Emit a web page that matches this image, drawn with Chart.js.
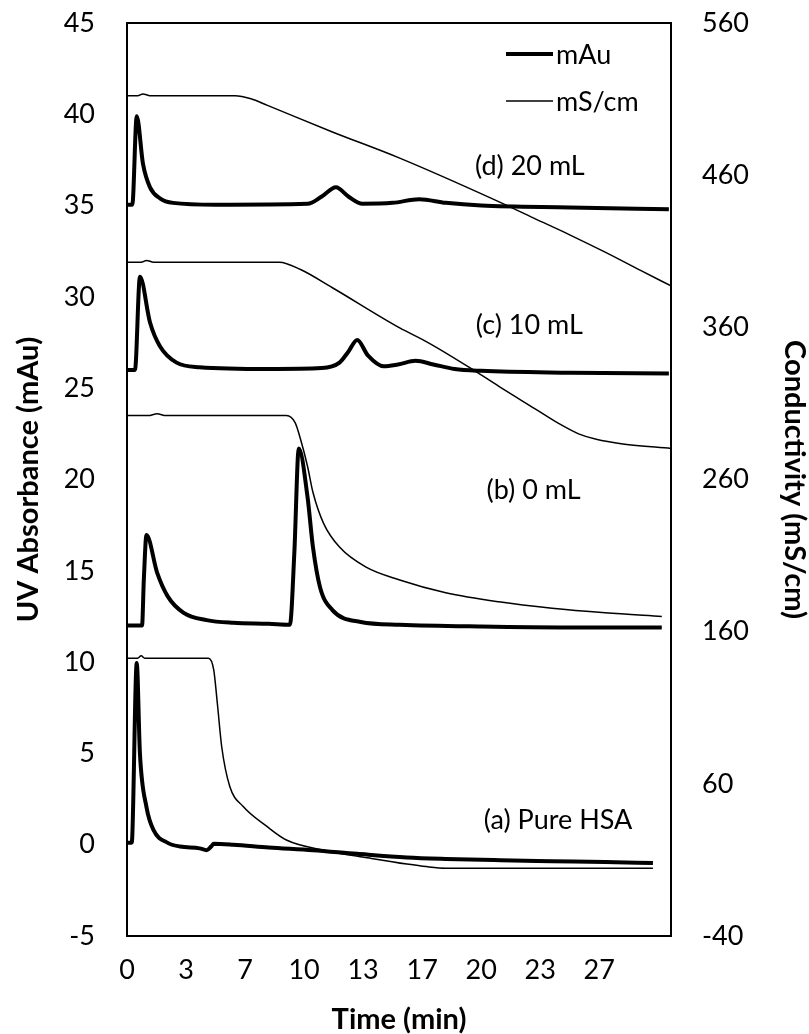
<!DOCTYPE html>
<html>
<head>
<meta charset="utf-8">
<script src="https://cdn.jsdelivr.net/npm/chart.js@4.4.1/dist/chart.umd.min.js"></script>
<style>
  html, body { margin: 0; padding: 0; background: #fff; }
  #wrap { width: 809px; height: 1034px; }
</style>
</head>
<body>
<div id="wrap"><canvas id="chart" width="809" height="1034"></canvas></div>
<script>
// UV absorbance traces (mAu, offset per run) - left axis
const uvA_t = [0, 0.25, 0.3, 0.55, 0.73, 1.1, 1.5, 2.3, 3.0, 4.1, 4.5, 4.75, 4.9, 6, 8, 10.5, 13, 15.8, 18, 21.1, 24, 27, 29.7];
const uvA_v = [0.1, 0.1, 0.5, 9.95, 5.0, 2.06, 0.8, 0.1, -0.1, -0.2, -0.3, -0.1, 0.05, 0.0, -0.15, -0.3, -0.5, -0.7, -0.78, -0.85, -0.9, -0.95, -1.0];

const uvB_t = [0, 0.85, 0.95, 1.1, 1.7, 2.3, 3.2, 4.5, 6, 8, 9.2, 9.45, 9.7, 10.2, 10.5, 10.9, 11.6, 13.2, 15.4, 20, 25, 30.2];
const uvB_v = [12.0, 12.0, 14.5, 16.96, 14.9, 13.6, 12.7, 12.3, 12.15, 12.1, 12.05, 16.0, 21.7, 19.0, 16.3, 14.1, 12.85, 12.2, 12.05, 11.95, 11.9, 11.9];

const uvC_t = [0, 0.45, 0.73, 1.3, 1.86, 2.8, 4.1, 8, 11, 12.0, 12.5, 13.0, 13.6, 14.5, 15.3, 16.3, 17.3, 18.5, 20, 25, 30.6];
const uvC_v = [26.0, 26.0, 31.1, 28.6, 27.3, 26.4, 26.15, 26.05, 26.1, 26.4, 27.0, 27.64, 26.8, 26.2, 26.3, 26.5, 26.3, 26.05, 25.95, 25.85, 25.8];

const uvD_t = [0, 0.3, 0.55, 0.9, 1.3, 1.86, 2.6, 5, 10.2, 11.0, 11.8, 12.5, 13.3, 15, 16.5, 18, 20, 25, 30.6];
const uvD_v = [35.05, 35.05, 39.9, 37.3, 36.0, 35.4, 35.15, 35.05, 35.1, 35.5, 36.0, 35.5, 35.1, 35.15, 35.35, 35.15, 35.0, 34.9, 34.8];

// conductivity traces (mS/cm) - right axis
const condA_t = [0, 0.6, 0.8, 1.0, 4.6, 4.9, 5.1, 5.35, 5.8, 6.55, 7.9, 9.0, 11.1, 13.7, 15.8, 16.9, 18, 29.7];
const condA_v = [142.6, 142.6, 144.2, 142.6, 142.6, 134.8, 113.1, 84.2, 58.4, 45.2, 32, 23.1, 16.4, 11.2, 7.3, 5.6, 4.6, 4.6];

const condB_t = [0, 1.2, 1.7, 2.2, 9.0, 9.5, 9.8, 10.2, 10.5, 11.1, 12.0, 13.5, 15.4, 18, 21, 24, 27, 30.2];
const condB_v = [302, 302, 303.2, 302, 302, 297.2, 286.4, 268.4, 251.6, 231.2, 215.6, 202.4, 194, 185.6, 179.6, 175.4, 172.4, 170];

const condC_t = [0, 0.8, 1.1, 1.5, 8.6, 9.8, 11.6, 15.4, 17, 19.4, 21, 23, 24.5, 25.5, 26.5, 28, 30.72];
const condC_v = [402.8, 402.8, 404, 402.8, 402.8, 398, 386, 359.6, 350, 333.2, 321.2, 306.8, 296, 290, 286.4, 283.4, 280.4];

const condD_t = [0, 0.6, 0.9, 1.3, 6.1, 7.0, 7.9, 11.6, 15.4, 20.8, 23, 25, 27, 29, 30.72];
const condD_v = [512.2, 512.2, 513.4, 512.2, 512.2, 510.2, 506, 488.4, 471.2, 443.6, 431.6, 420.8, 409.4, 397.4, 387.2];

// run labels placed in data coordinates (time, mAu)
const runLabels = ['(d) 20 mL', '(c) 10 mL', '(b) 0 mL', '(a) Pure HSA'];
const runLabelT = [19.65, 19.7, 20.3, 20.15];
const runLabelV = [37.17, 28.46, 19.4, 1.35];

const xTickValues = [0, 10 / 3, 20 / 3, 10, 40 / 3, 50 / 3, 20, 70 / 3, 80 / 3];

const FONT = 'Lato, "Open Sans", sans-serif';

function pts(t, v) {
    return t.map((x, i) => ({ x: x, y: v[i] }));
}

function uvSet(label, t, v) {
    return {
        label: label, data: pts(t, v), yAxisID: 'y',
        borderColor: '#000', borderWidth: 4, pointRadius: 0,
        cubicInterpolationMode: 'monotone', fill: false
    };
}

function condSet(label, t, v) {
    return {
        label: label, data: pts(t, v), yAxisID: 'y2',
        borderColor: '#000', borderWidth: 1.5, pointRadius: 0,
        cubicInterpolationMode: 'monotone', fill: false
    };
}

// drop the extra room Chart.js keeps for the end tick labels
function noEdgePad(s) {
    s.paddingTop = 0;
    s.paddingBottom = 0;
    s.paddingLeft = 0;
    s.paddingRight = 0;
}

// box around plot area
const frame = {
    id: 'frame',
    afterDraw(chart) {
        const { ctx, chartArea: a } = chart;
        ctx.save();
        ctx.strokeStyle = '#000';
        ctx.lineWidth = 2;
        ctx.strokeRect(a.left, a.top, a.right - a.left, a.bottom - a.top);
        ctx.restore();
    }
};

// in-plot legend (only first dataset of each kind)
const inLegend = {
    id: 'inLegend',
    afterDraw(chart) {
        const ctx = chart.ctx;
        const items = chart.data.datasets.filter(d => d.showInLegend);
        ctx.save();
        ctx.font = '27px ' + FONT;
        ctx.fillStyle = '#000';
        ctx.textBaseline = 'middle';
        items.forEach((d, i) => {
            const y = 54 + i * 47;
            ctx.strokeStyle = '#000';
            ctx.lineWidth = d.borderWidth;
            ctx.beginPath();
            ctx.moveTo(506, y);
            ctx.lineTo(553, y);
            ctx.stroke();
            ctx.fillText(d.label, 556, y + 1);
        });
        ctx.restore();
    }
};

// run annotations
const runText = {
    id: 'runText',
    afterDraw(chart) {
        const ctx = chart.ctx;
        const xs = chart.scales.x, ys = chart.scales.y;
        ctx.save();
        ctx.font = '27px ' + FONT;
        ctx.fillStyle = '#000';
        ctx.textBaseline = 'middle';
        ctx.textAlign = 'left';
        runLabels.forEach((txt, i) => {
            ctx.fillText(txt, xs.getPixelForValue(runLabelT[i]), ys.getPixelForValue(runLabelV[i]));
        });
        ctx.restore();
    }
};

Chart.defaults.color = '#000';
Chart.defaults.font.family = FONT;

const uvD = uvSet('mAu', uvD_t, uvD_v);
uvD.showInLegend = true;
const condD = condSet('mS/cm', condD_t, condD_v);
condD.showInLegend = true;

new Chart(document.getElementById('chart').getContext('2d'), {
    type: 'line',
    data: {
        datasets: [
            uvD,
            uvSet('mAu (c)', uvC_t, uvC_v),
            uvSet('mAu (b)', uvB_t, uvB_v),
            uvSet('mAu (a)', uvA_t, uvA_v),
            condD,
            condSet('mS/cm (c)', condC_t, condC_v),
            condSet('mS/cm (b)', condB_t, condB_v),
            condSet('mS/cm (a)', condA_t, condA_v)
        ]
    },
    options: {
        responsive: false,
        animation: false,
        layout: { padding: { top: 23, left: 0, right: 0, bottom: 0 } },
        plugins: { legend: { display: false }, tooltip: { enabled: false } },
        scales: {
            x: {
                type: 'linear', min: 0, max: 30.72,
                grid: { display: false, drawTicks: false },
                border: { display: false },
                afterBuildTicks: s => { s.ticks = xTickValues.map(v => ({ value: v })); },
                afterFit: s => { s.height = 98; noEdgePad(s); },
                ticks: {
                    padding: 18, maxRotation: 0, autoSkip: false,
                    font: { size: 27 },
                    callback: v => String(Math.round(v))
                },
                title: {
                    display: true, text: 'Time (min)',
                    font: { size: 29, weight: 'bold', lineHeight: 1 },
                    padding: { top: 0, bottom: 0 }
                }
            },
            y: {
                position: 'left', min: -5, max: 45,
                grid: { display: false, drawTicks: false },
                border: { display: false },
                afterFit: s => { s.width = 127; noEdgePad(s); },
                ticks: { stepSize: 5, padding: 32, font: { size: 27 } },
                title: {
                    display: true, text: 'UV Absorbance (mAu)',
                    font: { size: 29, weight: 'bold', lineHeight: 1 },
                    padding: { top: 14, bottom: 0 }
                }
            },
            y2: {
                position: 'right', min: -40, max: 560,
                grid: { display: false, drawTicks: false },
                border: { display: false },
                afterFit: s => { s.width = 138; noEdgePad(s); },
                ticks: { stepSize: 100, padding: 31, font: { size: 27 } },
                title: {
                    display: true, text: 'Conductivity (mS/cm)',
                    font: { size: 29, weight: 'bold', lineHeight: 1 },
                    padding: { top: 0, bottom: 0 }
                }
            }
        }
    },
    plugins: [frame, inLegend, runText]
});
</script>
</body>
</html>
